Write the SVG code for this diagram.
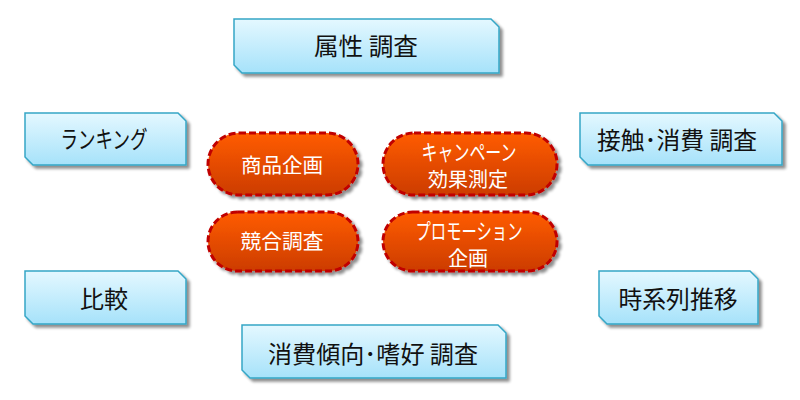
<svg xmlns="http://www.w3.org/2000/svg" width="800" height="400" viewBox="0 0 800 400">
<defs>
<linearGradient id="gBlue" x1="0" y1="0" x2="0" y2="1">
<stop offset="0" stop-color="#e4f8ff"/>
<stop offset="1" stop-color="#a6e2fa"/>
</linearGradient>
<linearGradient id="gOrange" x1="0" y1="0" x2="0" y2="1">
<stop offset="0" stop-color="#ff5c00"/>
<stop offset="1" stop-color="#cc3c00"/>
</linearGradient>
<filter id="sh" x="-10%" y="-10%" width="125%" height="140%">
<feGaussianBlur in="SourceAlpha" stdDeviation="1.6"/>
<feOffset dx="2.5" dy="3" result="b"/>
<feComponentTransfer><feFuncA type="linear" slope="0.45"/></feComponentTransfer>
<feMerge><feMergeNode/><feMergeNode in="SourceGraphic"/></feMerge>
</filter>
</defs>
<style>
.box{fill:url(#gBlue);stroke:#34a6c6;stroke-width:1.5;filter:url(#sh)}
.pill{fill:url(#gOrange);stroke:#c00000;stroke-width:3;stroke-dasharray:7 3;filter:url(#sh)}
.bt{font-family:"Noto Sans CJK JP","Noto Sans",sans-serif;font-size:24px;fill:#111;text-anchor:middle;dominant-baseline:central}
.pt{font-family:"Noto Sans CJK JP","Noto Sans",sans-serif;font-size:20px;fill:#fff;text-anchor:middle;dominant-baseline:central}
</style>
<g id="connectors"></g>
<g id="n-zokusei">
<path class="box" d="M234,19 H491 L499,27 V73 H242 L234,65 Z"/>
<text class="bt" x="366" y="44" textLength="104" lengthAdjust="spacingAndGlyphs">属性 調査</text>
</g>
<g id="n-ranking">
<path class="box" d="M25,113 H178 L186,121 V165 H33 L25,157 Z"/>
<text class="bt" x="104" y="137" textLength="87" lengthAdjust="spacingAndGlyphs">ランキング</text>
</g>
<g id="n-sesshoku">
<path class="box" d="M580,113 H774 L782,121 V165 H588 L580,157 Z"/>
<text class="bt" x="677" y="138" textLength="160" lengthAdjust="spacingAndGlyphs">接触･消費 調査</text>
</g>
<g id="n-hikaku">
<path class="box" d="M25,271 H178 L186,279 V324 H33 L25,316 Z"/>
<text class="bt" x="104" y="297">比較</text>
</g>
<g id="n-jikeiretsu">
<path class="box" d="M599,271 H750 L758,279 V324 H607 L599,316 Z"/>
<text class="bt" x="678" y="297" textLength="119" lengthAdjust="spacingAndGlyphs">時系列推移</text>
</g>
<g id="n-shohi">
<path class="box" d="M242,325 H498 L506,333 V378 H250 L242,370 Z"/>
<text class="bt" x="373" y="352" textLength="210" lengthAdjust="spacingAndGlyphs">消費傾向･嗜好 調査</text>
</g>
<g id="n-shohin">
<rect class="pill" x="208" y="133" width="150" height="62" rx="31"/>
<text class="pt" x="282" y="164" textLength="82" lengthAdjust="spacingAndGlyphs">商品企画</text>
</g>
<g id="n-campaign">
<rect class="pill" x="383" y="133" width="174" height="62" rx="31"/>
<text class="pt" x="469" y="150" style="font-size:22px" textLength="95" lengthAdjust="spacingAndGlyphs">キャンペーン</text>
<text class="pt" x="468" y="178" textLength="80" lengthAdjust="spacingAndGlyphs">効果測定</text>
</g>
<g id="n-kyougou">
<rect class="pill" x="208" y="212" width="150" height="59" rx="29.5"/>
<text class="pt" x="282" y="240" textLength="83" lengthAdjust="spacingAndGlyphs">競合調査</text>
</g>
<g id="n-promotion">
<rect class="pill" x="383" y="212" width="174" height="59" rx="29.5"/>
<text class="pt" x="469" y="229" style="font-size:22px" textLength="107" lengthAdjust="spacingAndGlyphs">プロモーション</text>
<text class="pt" x="468" y="257">企画</text>
</g>
</svg>
